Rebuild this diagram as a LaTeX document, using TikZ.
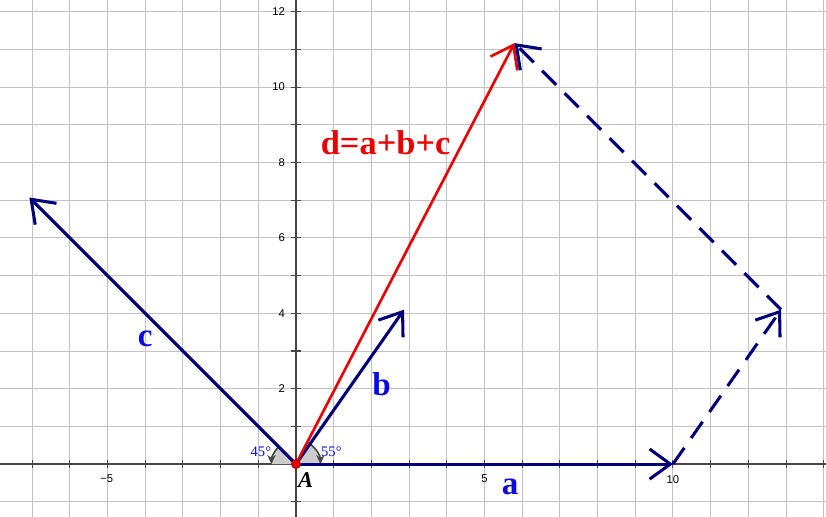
\documentclass[tikz,border=0pt]{standalone}
\usepackage{fontspec}
\setmainfont{Liberation Serif}
\newfontfamily\axisfont{Liberation Sans}
\usetikzlibrary{arrows.meta,angles,quotes,calc}
\definecolor{vecblue}{RGB}{0,0,120}
\definecolor{lblblue}{RGB}{10,10,225}
\definecolor{vecred}{RGB}{235,0,0}
\definecolor{gridgray}{RGB}{195,195,195}
\definecolor{axisgray}{RGB}{70,70,70}
\tikzset{
  vec/.style={line width=2.3pt,vecblue,-{Straight Barb[length=5.5mm,width=8mm]}},
  vecd/.style={vec,dash pattern=on 15pt off 9pt},
  lbl/.style={lblblue,font=\fontsize{25}{28}\selectfont\bfseries},
  anglbl/.style={lblblue,font=\fontsize{11}{13}\selectfont},
  ticklbl/.style={font=\axisfont\fontsize{8.5}{10}\selectfont},
  angmark/.style={fill=gray!40,angle radius=0.65cm},
  angarc/.style={axisgray,line width=1.2pt,-{Stealth[length=2.4mm,width=2.2mm]}}
}

\begin{document}
\begin{tikzpicture}[x=1cm,y=1cm]
\useasboundingbox (-7.85,-1.40) rectangle (14.06,12.31);
% grid and axes
\draw[gridgray,line width=0.7pt] (-7.85,-1.40) grid (14.06,12.31);
\draw[axisgray,line width=1.1pt] (-7.85,0) -- (14.06,0);
\draw[axisgray,line width=1.1pt] (0,-1.40) -- (0,12.31);
\foreach \i in {-7,...,14}
	\draw[axisgray,line width=0.8pt] (\i,-0.1) -- (\i,0.1);
\foreach \j in {-1,...,12}
	\draw[axisgray,line width=0.8pt] (-0.14,\j) -- (0.14,\j);
\foreach \j in {2,4,...,12}
	\node[ticklbl,anchor=east] (y\j) at (-0.17,\j) {\j};
\node[ticklbl] (xm5) at (-5.02,-0.4) {−5};
\node[ticklbl] (x5) at (5,-0.4) {5};
\node[ticklbl] (x10) at (10,-0.4) {10};

\coordinate[] (A) at (0,0);
\coordinate[] (L) at (-1,0);
\coordinate[] (Pa) at (10,0);
\coordinate[] (Pb) at (55:5);
\coordinate[] (Pc) at (135:10);
\coordinate[] (Pab) at ($(Pa)+(Pb)$);
\coordinate[] (Pd) at ($(Pa)+(Pb)+(Pc)$);

% angle marks
\pic[angmark] {angle=Pa--A--Pb};
\pic[angmark] {angle=Pc--A--L};
\draw[angarc] (55:0.65) arc (55:0:0.65);
\draw[angarc] (135:0.65) arc (135:180:0.65);

% vectors
\draw[vec] (A) -- (Pc);
\draw[vec] (A) -- (Pb);
\draw[vec] (A) -- (Pa);
\draw[line width=2pt,vecred,-{Straight Barb[length=5.5mm,width=8mm]}] (A) -- (Pd);
\draw[vecd] (Pa) -- (Pab);
\draw[vecd] (Pab) -- (Pd);
\fill[fill=vecred,draw=red!60!black,line width=0.6pt] (A) circle (0.12);

% labels
\node[lbl] (la) at (5.68,-0.6) {a};
\node[lbl] (lb) at (2.27,2.12) {b};
\node[lbl] (lc) at (-4.0,3.32) {c};
\node[lbl,vecred,font=\fontsize{26}{28}\selectfont\bfseries] (ld) at (2.38,8.53) {d=a+b+c};
\node[anglbl] (l45) at (-0.93,0.32) {45°};
\node[anglbl] (l55) at (0.94,0.32) {55°};
\node[font=\fontsize{17}{19}\selectfont\bfseries] (lA) at (0.26,-0.42) {\textit{A}};
\end{tikzpicture}
\end{document}
